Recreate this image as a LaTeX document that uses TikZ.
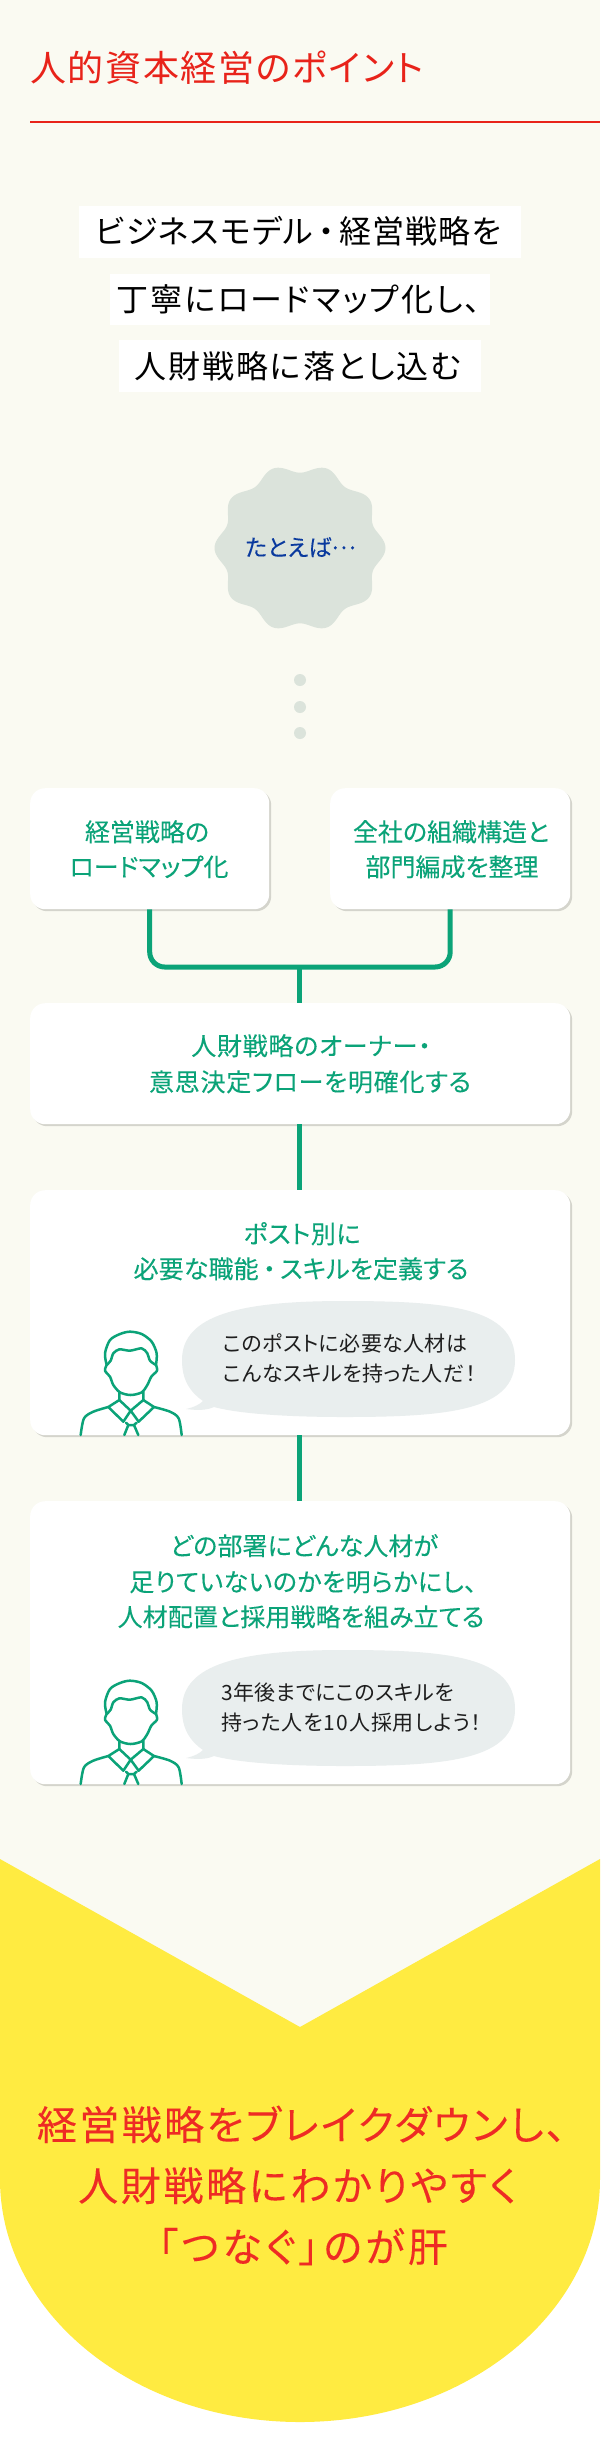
\documentclass[tikz,border=0pt]{standalone}
\usepackage{fontspec}
\usetikzlibrary{shadows}
\newfontfamily\jp[RawFeature=+palt]{Noto Sans CJK JP}
\newfontfamily\jpm[RawFeature=+palt,FakeBold=0.12]{Noto Sans CJK JP}
\newfontfamily\jps[RawFeature=+palt,FakeBold=0.07]{Noto Sans CJK JP}
\definecolor{cream}{HTML}{FAFAF2}
\definecolor{grn}{HTML}{0BA378}
\definecolor{ttlred}{HTML}{E8231A}
\definecolor{endred}{HTML}{EE2B24}
\definecolor{yel}{HTML}{FFEB41}
\definecolor{badge}{HTML}{DBE3DB}
\definecolor{bub}{HTML}{E9EEEE}
\definecolor{navy}{HTML}{0A3A9E}
\definecolor{shad}{HTML}{D4D4CC}
\definecolor{ink}{HTML}{1E1E1E}
% \tline[letter space %]{name}{x}{y of centre}{style}{size}{text}
\newcommand{\tline}[7][0]{\node[anchor=base,inner sep=0pt,#5,font=\jp\fontsize{#6pt}{#6pt}\selectfont\addfontfeature{LetterSpace=#1}] (#2) at (#3,{#4+0.37*#6}) {#7};}
\newcommand{\gline}[7][0]{\node[anchor=base,inner sep=0pt,#5,font=\jps\fontsize{#6pt}{#6pt}\selectfont\addfontfeature{LetterSpace=#1}] (#2) at (#3,{#4+0.37*#6}) {#7};}
\newcommand{\sline}[6][0]{\node[anchor=base west,inner sep=0pt,#5,font=\jp\fontsize{21pt}{21pt}\selectfont\addfontfeature{LetterSpace=#1}] (#2) at (#3,{#4+0.37*21}) {#6};}
\tikzset{
 x=1pt,y=-1pt,
 card/.style={fill=white,rounded corners=15pt,inner sep=0pt,draw=none,anchor=north west,
   drop shadow={shadow xshift=2pt,shadow yshift=-2pt,fill=shad,opacity=1}},
 linebox/.style={fill=white,inner sep=0pt,anchor=north west},
 link/.style={draw=grn,line width=5pt},
 mandraw/.style={draw=grn,line width=2.5pt,line join=round,line cap=round},
 grntext/.style={text=grn},
 inktext/.style={text=ink},
 blacktext/.style={text=black},
 redtext/.style={text=ttlred},
 endtext/.style={text=endred},
 navytext/.style={text=navy},
 dot/.style={circle,fill=badge,inner sep=0pt,minimum size=12pt},
}
\newcommand{\manicon}[1]{%
\begin{scope}[shift={(60,#1)},scale=1/3]
 \draw[mandraw] plot[smooth] coordinates {(140,165)(135,130)(150,90)(180,72)(210,65)(245,72)(275,95)(290,130)(288,165)};
 \draw[mandraw] plot[smooth] coordinates {(140,165)(152,152)(160,130)(178,118)(210,122)(245,115)(262,130)(270,152)(288,165)};
 \draw[mandraw] plot[smooth] coordinates {(140,165)(135,182)(150,200)(160,225)(180,247)(212,255)(245,247)(262,225)(274,200)(291,182)(288,165)};
 \draw[mandraw] (178,245) -- (178,270) -- (212,302) -- (250,270) -- (250,245);
 \draw[mandraw] (178,270) -- (145,291) -- (190,335) -- (212,302) -- (236,335) -- (282,291) -- (250,270);
 \draw[mandraw] plot[smooth] coordinates {(145,291)(100,305)(72,325)(62,375)};
 \draw[mandraw] plot[smooth] coordinates {(282,291)(330,305)(356,325)(365,375)};
 \draw[mandraw] (198,338) -- (205,345) -- (222,345) -- (230,338);
 \draw[mandraw] (205,345) -- (193,375);
 \draw[mandraw] (222,345) -- (235,375);
\end{scope}}
\newcommand{\bubble}[1]{%
\fill[bub,shift={(0,#1)}] (344,1301) .. controls (450,1301) and (515,1308) .. (515,1360)
 .. controls (515,1410) and (450,1417) .. (344,1417)
 .. controls (290,1417) and (240,1414) .. (214,1407)
 .. controls (205,1411) and (195,1410) .. (186,1409)
 .. controls (195,1407) and (200,1404) .. (203,1401)
 .. controls (190,1392) and (182,1380) .. (182,1360)
 .. controls (182,1315) and (240,1301) .. (344,1301) -- cycle;}
\begin{document}
\begin{tikzpicture}
\useasboundingbox (0,0) rectangle (600,2461);
\fill[white] (0,0) rectangle (600,2461);
\fill[cream] (0,0) rectangle (600,2100);
% header
\tline[4.7]{title}{227}{68}{redtext}{36}{人的資本経営のポイント}
\coordinate (ruleL) at (30,122);
\coordinate (ruleR) at (600,122);
\draw[ttlred,line width=2pt] (ruleL) -- (ruleR);
% headline
\node[linebox,minimum width=442pt,minimum height=52pt] (hb1) at (79,206) {};
\node[linebox,minimum width=380pt,minimum height=51pt] (hb2) at (110,274) {};
\node[linebox,minimum width=362pt,minimum height=52pt] (hb3) at (119,340) {};
\tline[4]{h1}{298.5}{232}{blacktext}{32}{ビジネスモデル\hspace{0.15em}・\hspace{0.15em}経営戦略を}
\tline[6.5]{h2}{298.6}{300}{blacktext}{32}{丁寧にロードマップ化し、}
\tline[6.5]{h3}{297.6}{367}{blacktext}{32}{人財戦略に落とし込む}
% badge
\fill[badge] plot[domain=0:360,samples=241,smooth] ({300+(81+4.5*cos(10*\x))*cos(\x)},{548+(79.5+4.2*cos(10*\x))*sin(\x)}) -- cycle;
\node[anchor=base,inner sep=0pt,navytext,font=\jpm\fontsize{23pt}{23pt}\selectfont] (tatoeba) at (300.5,556) {たとえば\raisebox{0.3em}{…}};
\node[dot] (d1) at (300,680) {};
\node[dot] (d2) at (300,707) {};
\node[dot] (d3) at (300,733) {};
% cards
\node[card,minimum width=239pt,minimum height=121pt] (a) at (30,788) {};
\node[card,minimum width=240pt,minimum height=121pt] (b) at (330,788) {};
\node[card,minimum width=540pt,minimum height=121pt] (c) at (30,1003) {};
\node[card,minimum width=540pt,minimum height=245pt] (d) at (30,1190) {};
\node[card,minimum width=540pt,minimum height=283pt] (e) at (30,1501) {};
% connectors
\coordinate (j) at (299.5,967);
\draw[link,rounded corners=15pt] (a.south) |- (j) -| (b.south);
\draw[link] (j) -- (j |- c.north);
\draw[link] (j |- c.south) -- (j |- d.north);
\draw[link] (j |- d.south) -- (j |- e.north);
% card texts
\gline{a1}{147}{832}{grntext}{25}{経営戦略の}
\gline{a2}{149}{867}{grntext}{25}{ロードマップ化}
\gline{b1}{451}{832}{grntext}{25}{全社の組織構造と}
\gline{b2}{452}{867}{grntext}{25}{部門編成を整理}
\gline[3]{c1}{311}{1046}{grntext}{25}{人財戦略のオーナー・}
\gline[3]{c2}{310}{1082}{grntext}{25}{意思決定フローを明確化する}
\gline[2]{d1t}{302}{1234}{grntext}{25}{ポスト別に}
\gline[0.5]{d2t}{301}{1269}{grntext}{25}{必要な職能\hspace{0.18em}・\hspace{0.18em}スキルを定義する}
\gline[0.5]{e1t}{304}{1546}{grntext}{25}{どの部署にどんな人材が}
\gline[2]{e2t}{303}{1582}{grntext}{25}{足りていないのかを明らかにし、}
\gline[0.5]{e3t}{301}{1617}{grntext}{25}{人材配置と採用戦略を組み立てる}
% bubbles and figures
\bubble{0}
\bubble{349}
\manicon{1310}
\manicon{1659}
\sline[2]{s1}{223}{1344}{inktext}{このポストに必要な人材は}
\sline[2.4]{s2}{223}{1374}{inktext}{こんなスキルを持った人だ！}
\sline[2]{s3}{221}{1693}{inktext}{3年後までにこのスキルを}
\sline[4.4]{s4}{221}{1723}{inktext}{持った人を10人採用しよう！}
% closing panel
\fill[yel] (0,1859) -- (300,2027) -- (600,1859) -- (600,2179) arc[start angle=0,end angle=-180,x radius=300,y radius=-243] -- cycle;
\gline[6]{z1}{301.5}{2125}{endtext}{40}{経営戦略をブレイクダウンし、}
\gline[6.7]{z2}{297.6}{2186}{endtext}{40}{人財戦略にわかりやすく}
\gline[8.5]{z3}{303}{2247}{endtext}{40}{「つなぐ」\hspace{0.12em}のが肝}
\end{tikzpicture}
\end{document}
